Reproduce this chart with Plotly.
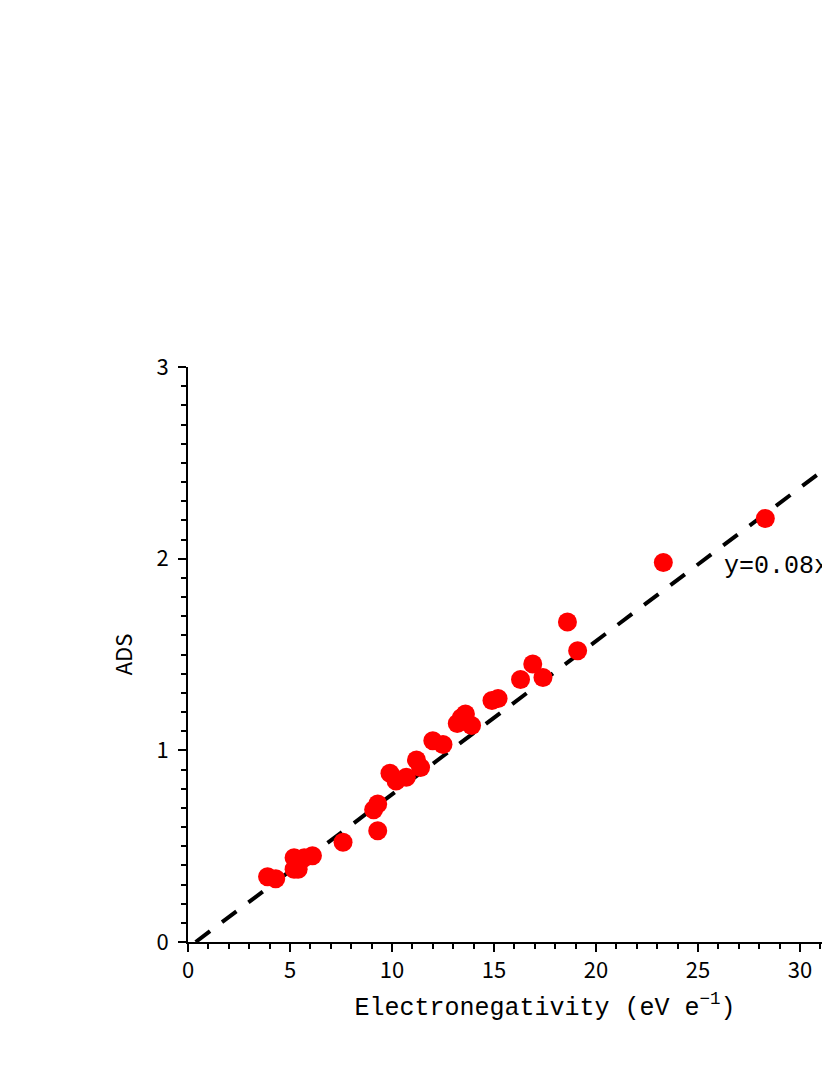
import plotly.graph_objects as go

# Datos
electroneg = [3.9, 4.3, 5.2, 5.2, 5.4, 5.7, 6.1, 7.6, 9.1, 9.3, 9.3, 9.9, 10.2, 10.7,
              11.2, 11.4, 12.0, 12.5, 13.2, 13.4, 13.6, 13.9, 14.9, 15.2, 16.3, 16.9,
              17.4, 18.6, 19.1, 23.3, 28.3]
ads = [0.34, 0.33, 0.44, 0.38, 0.38, 0.44, 0.45, 0.52, 0.69, 0.72, 0.58, 0.88, 0.84, 0.86,
       0.95, 0.91, 1.05, 1.03, 1.14, 1.17, 1.19, 1.13, 1.26, 1.27, 1.37, 1.45,
       1.38, 1.67, 1.52, 1.98, 2.21]

# Ajuste lineal
pendiente = 0.08
intercepto = -0.03
x_fit = [0.375, 35]
y_fit = [pendiente * x + intercepto for x in x_fit]

fig = go.Figure()

fig.add_trace(go.Scatter(x=x_fit, y=y_fit, mode='lines',
                         line=dict(color='black', width=4, dash='18px,15px'),
                         showlegend=False))

fig.add_trace(go.Scatter(x=electroneg, y=ads, mode='markers',
                         marker=dict(color='#ff0000', size=19),
                         showlegend=False))

fig.add_annotation(x=26.2, y=1.96, text='y=0.08x-0.03', showarrow=False,
                   xanchor='left', yanchor='middle',
                   font=dict(size=25, color='black', family='Liberation Mono'))

eje = dict(showline=True, linecolor='black', linewidth=2, showgrid=False,
           zeroline=False, ticks='outside', ticklen=8, tickwidth=2,
           tickcolor='black', tickfont=dict(size=22, color='black'))

fig.update_layout(
    width=1000, height=1075,
    margin=dict(l=180, r=106, t=359, b=141),
    plot_bgcolor='white', paper_bgcolor='white',
    font=dict(family='Noto Sans CJK SC', color='black'),
    xaxis=dict(range=[0, 35], dtick=5, tick0=0,
               minor=dict(dtick=1, ticks='outside', ticklen=5, tickwidth=2, tickcolor='black'),
               title=dict(text='Electronegativity (eV e<sup>\u22121</sup>)',
                          font=dict(size=25, family='Liberation Mono'), standoff=14),
               **eje),
    yaxis=dict(range=[0, 3], dtick=1, tick0=0, ticklabelstandoff=5,
               minor=dict(dtick=0.1, ticks='outside', ticklen=5, tickwidth=2, tickcolor='black'),
               title=dict(text='ADS', font=dict(size=22), standoff=18),
               **eje),
)

fig.write_html('out.html')
